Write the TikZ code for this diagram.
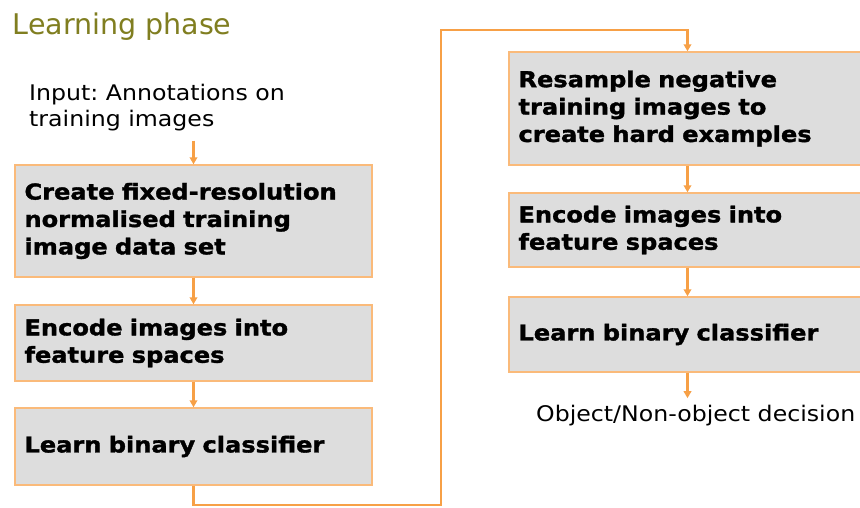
\documentclass[tikz,border=0pt]{standalone}
\usepackage{fontspec}
\setmainfont{DejaVu Sans}[FakeStretch=1.1, BoldFeatures={FakeBold=1.5}]
\newfontfamily\titlefont{DejaVu Sans}
\usetikzlibrary{arrows.meta}
\frenchspacing
\definecolor{boxfill}{RGB}{221,221,221}
\definecolor{boxedge}{RGB}{250,186,122}
\definecolor{flow}{RGB}{247,160,70}
\definecolor{titleolive}{RGB}{128,126,32}
\begin{document}
\begin{tikzpicture}[x=1pt,y=-1pt,
  stepbox/.style={draw=boxedge, line width=1.4pt, fill=boxfill,
    minimum width=357pt, text width=338pt, inner xsep=9.5pt, inner ysep=0pt,
    align=left, font=\bfseries\fontsize{21.9}{27.4}\selectfont},
  flowline/.style={draw=flow, line width=2.1pt,
    -{Triangle[length=7pt,width=7.5pt]}},
  plaintext/.style={font=\fontsize{21.5}{26}\selectfont, inner sep=0pt, align=left}]

\useasboundingbox (0,0) rectangle (860,507);
\fill[white] (0,0) rectangle (860,507);

% heading
\node[anchor=base west, inner sep=0pt, text=titleolive,
      font=\titlefont\fontsize{28.5}{34}\selectfont] (title) at (12.5,34) {Learning phase};

% left column
\node[plaintext, anchor=north west] (input) at (29,84)
  {Input: Annotations on\\training images};
\node[stepbox, minimum height=112pt] (b1) at (193.5,221)
  {Create fixed-resolution\\normalised training\\image data set};
\node[stepbox, minimum height=76pt] (b2) at (193.5,343)
  {Encode images into\\feature spaces};
\node[stepbox, minimum height=77pt] (b3) at (193.5,446.5)
  {\raisebox{-1.5pt}{Learn binary classifier}};

% right column
\node[stepbox, minimum height=113pt] (b4) at (687.5,108.5)
  {Resample negative\\training images to\\create hard examples};
\node[stepbox, minimum height=74pt] (b5) at (687.5,230)
  {Encode images into\\feature spaces};
\node[stepbox, minimum height=75pt] (b6) at (687.5,334.5)
  {\raisebox{-1.5pt}{Learn binary classifier}};
\node[plaintext, anchor=north west] (out) at (536,404.7)
  {Object/Non-object decision};

% route between the two columns
\coordinate (turnA) at (441,505.3);
\coordinate (turnB) at (441,30);

% connectors
\draw[flowline, shorten <=9.5pt] (b1.north |- input.south) -- (b1.north);
\draw[flowline] (b1) -- (b2);
\draw[flowline] (b2) -- (b3);
\draw[flowline] (b3.south) |- (turnA) -- (turnB) -| (b4.north);
\draw[flowline] (b4) -- (b5);
\draw[flowline] (b5) -- (b6);
\draw[flowline, shorten >=6.5pt] (b6.south) -- (b6.south |- out.north);
\end{tikzpicture}
\end{document}
